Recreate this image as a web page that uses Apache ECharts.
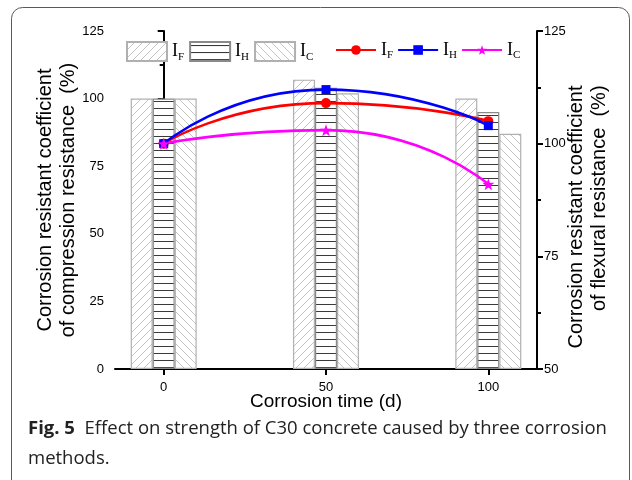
<!DOCTYPE html>
<html>
<head>
<meta charset="utf-8">
<script src="https://cdn.jsdelivr.net/npm/echarts@6/dist/echarts.min.js"></script>
<style>
  html, body { margin: 0; padding: 0; background: #fff; }
  #chart { width: 632px; height: 480px; }
</style>
</head>
<body>
<div id="chart"></div>
<script>
// Corrosion time (days)
const days = [0, 50, 100];
const xTicks = [0, 50, 100];

// Compression resistance coefficients (%), left axis — bars
const barIF = [100, 107, 100];
const barIH = [100, 104, 95];
const barIC = [100, 102, 87];

// Flexural resistance coefficients (%), right axis — lines
const lineIF = [100, 109, 105];
const lineIH = [100, 112, 104];
const lineIC = [100, 103, 91];

const subs = { IF: 'F', IH: 'H', IC: 'C' };

// Hatch tiles for the bar fills
function hatch(kind) {
  const c = document.createElement('canvas');
  const s = 8;
  c.width = s; c.height = kind === 'h' ? 7 : s;
  const g = c.getContext('2d');
  g.fillStyle = '#ffffff';
  g.fillRect(0, 0, c.width, c.height);
  g.lineWidth = 1;
  g.beginPath();
  if (kind === 'h') {
    g.strokeStyle = '#3a3a3a';
    g.moveTo(0, 3.5); g.lineTo(s, 3.5);
  } else if (kind === '/') {
    g.strokeStyle = '#c4c4c4';
    g.moveTo(0, s); g.lineTo(s, 0);
    g.moveTo(-1, 1); g.lineTo(1, -1);
    g.moveTo(s - 1, s + 1); g.lineTo(s + 1, s - 1);
  } else {
    g.strokeStyle = '#c4c4c4';
    g.moveTo(0, 0); g.lineTo(s, s);
    g.moveTo(s - 1, -1); g.lineTo(s + 1, 1);
    g.moveTo(-1, s - 1); g.lineTo(1, s + 1);
  }
  g.stroke();
  return { image: c, repeat: 'repeat' };
}

function pairs(vals) { return days.map((d, i) => [d, vals[i]]); }

const richLegend = {
  i: { fontFamily: 'Liberation Serif', fontSize: 18, color: '#000', lineHeight: 22 },
  s: { fontFamily: 'Liberation Serif', fontSize: 11, color: '#000', lineHeight: 8, verticalAlign: 'bottom' }
};
const legendFmt = name => '{i|I}{s|' + subs[name.replace(/^(bar|line)/, '')] + '}';

const sansFont = 'Liberation Sans';
const titleStyle = { fontFamily: sansFont, fontSize: 20, color: '#000', lineHeight: 23 };

const chart = echarts.init(document.getElementById('chart'), null, { renderer: 'canvas' });

const barCommon = {
  type: 'bar',
  xAxisIndex: 0,
  yAxisIndex: 0,
  barWidth: 22,
  barGap: '0%',
  z: 1
};

const lineCommon = {
  type: 'line',
  xAxisIndex: 0,
  yAxisIndex: 1,
  smooth: 0.6,
  z: 5
};

chart.setOption({
  animation: false,
  backgroundColor: '#fff',
  grid: { left: 115, right: 95, top: 31, bottom: 111, containLabel: false },
  xAxis: {
    type: 'value',
    min: -15,
    max: 115,
    name: 'Corrosion time (d)',
    nameLocation: 'middle',
    nameGap: 23,
    nameMoveOverlap: false,
    nameTextStyle: { fontFamily: sansFont, fontSize: 19, color: '#000' },
    axisLine: { show: true, onZero: false, lineStyle: { color: '#000', width: 2 } },
    axisTick: { show: true, customValues: xTicks, length: 6, lineStyle: { color: '#000', width: 2 } },
    axisLabel: { customValues: xTicks, margin: 12, fontFamily: sansFont, fontSize: 13, color: '#000' },
    splitLine: { show: false }
  },
  yAxis: [
    {
      type: 'value',
      position: 'left',
      min: 0,
      max: 125,
      interval: 25,
      name: 'Corrosion resistant coefficient\nof compression resistance  (%)',
      nameLocation: 'middle',
      nameGap: 35,
      nameMoveOverlap: false,
      nameTextStyle: titleStyle,
      axisLine: { show: true, lineStyle: { color: '#000', width: 2 } },
      axisTick: { show: true, length: 6, lineStyle: { color: '#000', width: 2 } },
      minorTick: { show: true, splitNumber: 2, length: 4, lineStyle: { color: '#000', width: 2 } },
      axisLabel: { margin: 11, fontFamily: sansFont, fontSize: 13, color: '#000' },
      splitLine: { show: false }
    },
    {
      type: 'value',
      position: 'right',
      min: 50,
      max: 125,
      interval: 25,
      name: '{t|Corrosion resistant coefficient}\n{t|of flexural resistance  (%)}',
      nameLocation: 'middle',
      nameGap: 28,
      nameRotate: 90,
      nameMoveOverlap: false,
      nameTextStyle: {
        fontFamily: sansFont, fontSize: 20, color: '#000', lineHeight: 23,
        padding: [0, 34, 0, 0],
        rich: { t: { fontFamily: sansFont, fontSize: 20, color: '#000', lineHeight: 23, align: 'right' } }
      },
      axisLine: { show: true, lineStyle: { color: '#000', width: 2 } },
      axisTick: { show: true, length: 6, lineStyle: { color: '#000', width: 2 } },
      minorTick: { show: true, splitNumber: 2, length: 4, lineStyle: { color: '#000', width: 2 } },
      axisLabel: { margin: 7, fontFamily: sansFont, fontSize: 13, color: '#000' },
      splitLine: { show: false }
    }
  ],
  legend: [
    {
      data: ['barIF', 'barIH', 'barIC'],
      left: 126,
      top: 41,
      padding: 0,
      itemWidth: 40,
      itemHeight: 19,
      itemGap: 5,
      icon: 'rect',
      formatter: legendFmt,
      textStyle: { rich: richLegend }
    },
    {
      data: ['lineIF', 'lineIH', 'lineIC'],
      left: 335,
      top: 41,
      padding: 0,
      itemWidth: 40,
      itemHeight: 12,
      itemGap: 4,
      formatter: legendFmt,
      textStyle: { rich: richLegend }
    }
  ],
  series: [
    Object.assign({}, barCommon, {
      name: 'barIF',
      data: pairs(barIF),
      itemStyle: { color: hatch('/'), borderColor: '#b0b0b0', borderWidth: 1.2 }
    }),
    Object.assign({}, barCommon, {
      name: 'barIH',
      data: pairs(barIH),
      itemStyle: { color: hatch('h'), borderColor: '#8a8a8a', borderWidth: 1.2 }
    }),
    Object.assign({}, barCommon, {
      name: 'barIC',
      data: pairs(barIC),
      itemStyle: { color: hatch('\\'), borderColor: '#b0b0b0', borderWidth: 1.2 }
    }),
    Object.assign({}, lineCommon, {
      name: 'lineIF',
      data: pairs(lineIF),
      symbol: 'circle',
      symbolSize: 10,
      itemStyle: { color: '#ff0000' },
      lineStyle: { width: 2.6, color: '#ff0000' }
    }),
    Object.assign({}, lineCommon, {
      name: 'lineIH',
      data: pairs(lineIH),
      symbol: 'rect',
      symbolSize: 9,
      itemStyle: { color: '#0000ff' },
      lineStyle: { width: 2.6, color: '#0000ff' }
    }),
    Object.assign({}, lineCommon, {
      name: 'lineIC',
      data: pairs(lineIC),
      symbol: 'path://M0,-10 L2.35,-3.24 L9.51,-3.09 L3.8,1.24 L5.88,8.09 L0,4 L-5.88,8.09 L-3.8,1.24 L-9.51,-3.09 L-2.35,-3.24 Z',
      symbolSize: 12,
      itemStyle: { color: '#ff00ff' },
      lineStyle: { width: 2.6, color: '#ff00ff' }
    })
  ],
  graphic: [
    {
      type: 'rect',
      shape: { x: 11.5, y: 7.5, width: 618, height: 520, r: 11 },
      style: { fill: 'none', stroke: '#5a5a5a', lineWidth: 1 },
      silent: true,
      z: 0
    },
    {
      type: 'text',
      left: 28,
      top: 419,
      style: {
        text: '{b|Fig. 5}  Effect on strength of C30 concrete caused by three corrosion',
        rich: {
          b: { fontFamily: 'Open Sans', fontWeight: 'bold', fontSize: 18.5, fill: '#222' }
        },
        fontFamily: 'Open Sans',
        fontSize: 18.5,
        fill: '#222'
      }
    },
    {
      type: 'text',
      left: 28,
      top: 449,
      style: {
        text: 'methods.',
        fontFamily: 'Open Sans',
        fontSize: 18.5,
        fill: '#222'
      }
    }
  ]
});
</script>
</body>
</html>
